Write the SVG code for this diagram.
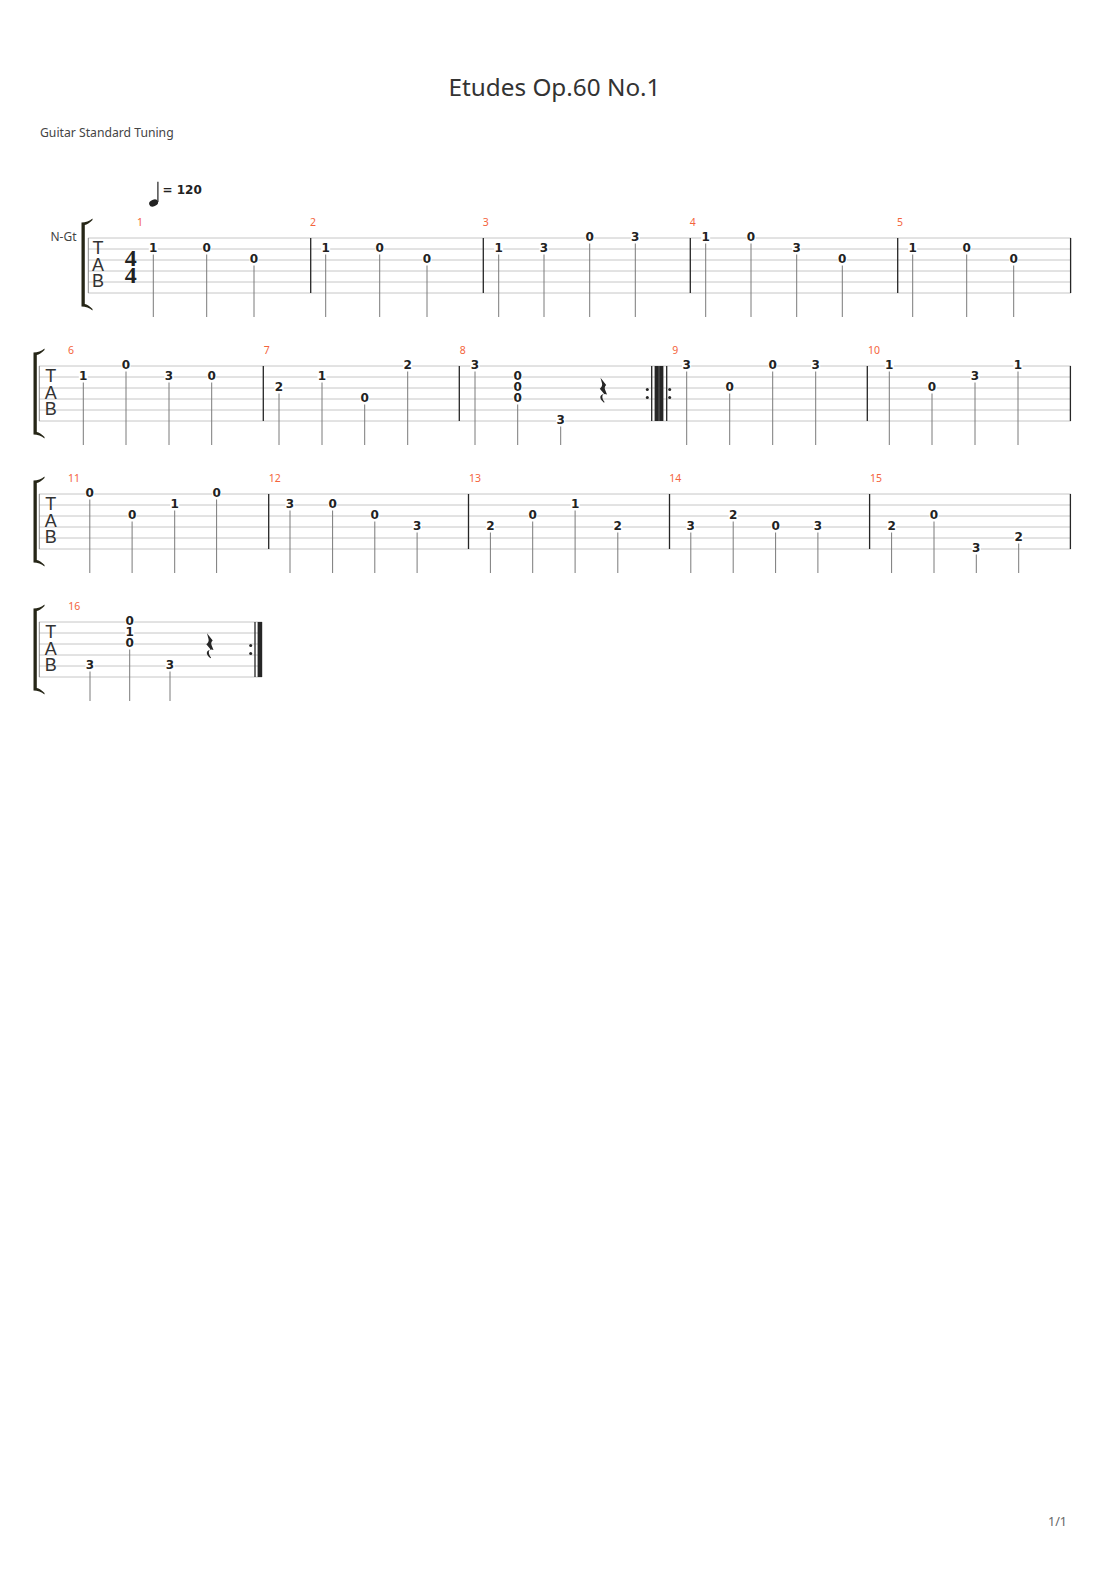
<svg xmlns="http://www.w3.org/2000/svg" width="1110" height="1570" viewBox="0 0 1110 1570">
<style>
.st{stroke:#c6c6c6;stroke-width:1;fill:none}
.edge{stroke:#8a8a8a;stroke-width:1}
.bar{stroke:#262626;stroke-width:1.3}
.stem{stroke:#7a7a7a;stroke-width:1}
.bg{fill:#ffffff}
.fret{font-family:"DejaVu Sans",sans-serif;font-weight:bold;font-size:12px;fill:#222;text-anchor:middle}
.mn{font-family:"Noto Sans",sans-serif;font-size:10.5px;fill:#f4643c;text-anchor:middle}
.tab{font-family:"Liberation Sans",sans-serif;font-size:18px;fill:#333;writing-mode:vertical-rl;text-orientation:upright;letter-spacing:-3.6px}
.ts{font-family:"Liberation Serif",serif;font-weight:bold;font-size:24px;fill:#222;writing-mode:vertical-rl;text-orientation:upright;letter-spacing:-8.4px}
.brk{fill:#262617}
.dot{fill:#262626}
</style>
<defs>
<path id="qrest" d="M1.5,0 L7.2,7.2 C5.8,8.6 5.2,10.2 6.2,12.2 L8,16.8 C6.2,16 3.8,16 3.4,18.2 C3,20.2 4.2,22.6 5.6,24.4 L5,25 C2.6,23 0.6,20.6 1.6,18.4 C2.4,16.6 4.6,16.4 5.6,16.8 L0.8,11 C2.6,9.6 3.6,7.6 3,5.6 Z" fill="#262626"/>
</defs>
<rect width="1110" height="1570" fill="#ffffff"/>

<g id="header">
<text x="554.5" y="96" font-family="Noto Sans, sans-serif" font-size="24.3" fill="#333" text-anchor="middle">Etudes Op.60 No.1</text>
<text x="40" y="136.5" font-family="Noto Sans, sans-serif" font-size="12.2" fill="#444">Guitar Standard Tuning</text>
<ellipse cx="153.6" cy="203" rx="4.6" ry="3.3" transform="rotate(-22 153.6 203)" fill="#222"/>
<line x1="157.9" y1="181.7" x2="157.9" y2="202" stroke="#222" stroke-width="1.2"/>
<text x="162.5" y="194" font-family="DejaVu Sans, sans-serif" font-weight="bold" font-size="12" fill="#222">= 120</text>
<text x="50.5" y="240.7" font-family="Noto Sans, sans-serif" font-size="12" fill="#444">N-Gt</text>
<text x="1067" y="1525.5" font-family="Noto Sans, sans-serif" font-size="12.5" fill="#666" text-anchor="end">1/1</text>
</g>

<!-- ================= SYSTEM 1 ================= -->
<g id="system1">
<path class="brk" d="M81.5,222.5 C85.5,222.5 89.5,221 92.5,218.5 L92.5,220 C89.5,223 87,224.5 84.8,225 L84.8,304 C87,304.5 89.5,306 92.5,309 L92.5,310.5 C89.5,308 85.5,306.5 81.5,306.5 Z"/>
<g class="st">
<line x1="88" y1="238" x2="1071" y2="238"/><line x1="88" y1="249" x2="1071" y2="249"/><line x1="88" y1="260" x2="1071" y2="260"/>
<line x1="88" y1="271" x2="1071" y2="271"/><line x1="88" y1="282" x2="1071" y2="282"/><line x1="88" y1="293" x2="1071" y2="293"/>
</g>
<line class="edge" x1="88.3" y1="238" x2="88.3" y2="293"/>
<text class="tab" x="98" y="238.3">TAB</text>
<text class="ts" x="130.7" y="244.8">44</text>
<g id="m1"><text class="mn" x="140" y="225.5">1</text>
<rect class="bg" x="148.8" y="242" width="9" height="10.5"/><text class="fret" x="153.3" y="251.5">1</text><line class="stem" x1="153.3" y1="254.5" x2="153.3" y2="317"/>
<rect class="bg" x="202.2" y="242" width="9" height="10.5"/><text class="fret" x="206.7" y="251.5">0</text><line class="stem" x1="206.7" y1="254.5" x2="206.7" y2="317"/>
<rect class="bg" x="249.5" y="253" width="9" height="10.5"/><text class="fret" x="254" y="262.5">0</text><line class="stem" x1="254" y1="265.5" x2="254" y2="317"/>
</g>
<line class="bar" x1="310.7" y1="238" x2="310.7" y2="293"/>
<g id="m2"><text class="mn" x="313" y="225.5">2</text>
<rect class="bg" x="321.2" y="242" width="9" height="10.5"/><text class="fret" x="325.7" y="251.5">1</text><line class="stem" x1="325.7" y1="254.5" x2="325.7" y2="317"/>
<rect class="bg" x="375.2" y="242" width="9" height="10.5"/><text class="fret" x="379.7" y="251.5">0</text><line class="stem" x1="379.7" y1="254.5" x2="379.7" y2="317"/>
<rect class="bg" x="422.5" y="253" width="9" height="10.5"/><text class="fret" x="427" y="262.5">0</text><line class="stem" x1="427" y1="265.5" x2="427" y2="317"/>
</g>
<line class="bar" x1="483.3" y1="238" x2="483.3" y2="293"/>
<g id="m3"><text class="mn" x="485.7" y="225.5">3</text>
<rect class="bg" x="494.2" y="242" width="9" height="10.5"/><text class="fret" x="498.7" y="251.5">1</text><line class="stem" x1="498.7" y1="254.5" x2="498.7" y2="317"/>
<rect class="bg" x="539.5" y="242" width="9" height="10.5"/><text class="fret" x="544" y="251.5">3</text><line class="stem" x1="544" y1="254.5" x2="544" y2="317"/>
<rect class="bg" x="585.2" y="231" width="9" height="10.5"/><text class="fret" x="589.7" y="240.5">0</text><line class="stem" x1="589.7" y1="243.5" x2="589.7" y2="317"/>
<rect class="bg" x="630.8" y="231" width="9" height="10.5"/><text class="fret" x="635.3" y="240.5">3</text><line class="stem" x1="635.3" y1="243.5" x2="635.3" y2="317"/>
</g>
<line class="bar" x1="690.3" y1="238" x2="690.3" y2="293"/>
<g id="m4"><text class="mn" x="692.7" y="225.5">4</text>
<rect class="bg" x="701.2" y="231" width="9" height="10.5"/><text class="fret" x="705.7" y="240.5">1</text><line class="stem" x1="705.7" y1="243.5" x2="705.7" y2="317"/>
<rect class="bg" x="746.5" y="231" width="9" height="10.5"/><text class="fret" x="751" y="240.5">0</text><line class="stem" x1="751" y1="243.5" x2="751" y2="317"/>
<rect class="bg" x="792.2" y="242" width="9" height="10.5"/><text class="fret" x="796.7" y="251.5">3</text><line class="stem" x1="796.7" y1="254.5" x2="796.7" y2="317"/>
<rect class="bg" x="837.8" y="253" width="9" height="10.5"/><text class="fret" x="842.3" y="262.5">0</text><line class="stem" x1="842.3" y1="265.5" x2="842.3" y2="317"/>
</g>
<line class="bar" x1="897.7" y1="238" x2="897.7" y2="293"/>
<g id="m5"><text class="mn" x="900" y="225.5">5</text>
<rect class="bg" x="908.2" y="242" width="9" height="10.5"/><text class="fret" x="912.7" y="251.5">1</text><line class="stem" x1="912.7" y1="254.5" x2="912.7" y2="317"/>
<rect class="bg" x="962.2" y="242" width="9" height="10.5"/><text class="fret" x="966.7" y="251.5">0</text><line class="stem" x1="966.7" y1="254.5" x2="966.7" y2="317"/>
<rect class="bg" x="1009.2" y="253" width="9" height="10.5"/><text class="fret" x="1013.7" y="262.5">0</text><line class="stem" x1="1013.7" y1="265.5" x2="1013.7" y2="317"/>
</g>
<line class="bar" x1="1070.6" y1="238" x2="1070.6" y2="293"/>
</g>

<!-- ================= SYSTEM 2 ================= -->
<g id="system2">
<path class="brk" d="M33.5,352.5 C37.5,352.5 41.5,351 44.5,348.5 L44.5,350 C41.5,353 39,354.5 36.8,355 L36.8,432 C39,432.5 41.5,434 44.5,437 L44.5,438.5 C41.5,436 37.5,434.5 33.5,434.5 Z"/>
<g class="st">
<line x1="39" y1="366" x2="1071" y2="366"/><line x1="39" y1="377" x2="1071" y2="377"/><line x1="39" y1="388" x2="1071" y2="388"/>
<line x1="39" y1="399" x2="1071" y2="399"/><line x1="39" y1="410" x2="1071" y2="410"/><line x1="39" y1="421" x2="1071" y2="421"/>
</g>
<line class="edge" x1="39.3" y1="366" x2="39.3" y2="421"/>
<text class="tab" x="50.7" y="366.3">TAB</text>
<g id="m6"><text class="mn" x="71" y="353.5">6</text>
<rect class="bg" x="78.8" y="370" width="9" height="10.5"/><text class="fret" x="83.3" y="379.5">1</text><line class="stem" x1="83.3" y1="382.5" x2="83.3" y2="445"/>
<rect class="bg" x="121.5" y="359" width="9" height="10.5"/><text class="fret" x="126" y="368.5">0</text><line class="stem" x1="126" y1="371.5" x2="126" y2="445"/>
<rect class="bg" x="164.5" y="370" width="9" height="10.5"/><text class="fret" x="169" y="379.5">3</text><line class="stem" x1="169" y1="382.5" x2="169" y2="445"/>
<rect class="bg" x="207.2" y="370" width="9" height="10.5"/><text class="fret" x="211.7" y="379.5">0</text><line class="stem" x1="211.7" y1="382.5" x2="211.7" y2="445"/>
</g>
<line class="bar" x1="263.3" y1="366" x2="263.3" y2="421"/>
<g id="m7"><text class="mn" x="266.7" y="353.5">7</text>
<rect class="bg" x="274.5" y="381" width="9" height="10.5"/><text class="fret" x="279" y="390.5">2</text><line class="stem" x1="279" y1="393.5" x2="279" y2="445"/>
<rect class="bg" x="317.5" y="370" width="9" height="10.5"/><text class="fret" x="322" y="379.5">1</text><line class="stem" x1="322" y1="382.5" x2="322" y2="445"/>
<rect class="bg" x="360.2" y="392" width="9" height="10.5"/><text class="fret" x="364.7" y="401.5">0</text><line class="stem" x1="364.7" y1="404.5" x2="364.7" y2="445"/>
<rect class="bg" x="403.2" y="359" width="9" height="10.5"/><text class="fret" x="407.7" y="368.5">2</text><line class="stem" x1="407.7" y1="371.5" x2="407.7" y2="445"/>
</g>
<line class="bar" x1="459.3" y1="366" x2="459.3" y2="421"/>
<g id="m8"><text class="mn" x="462.7" y="353.5">8</text>
<rect class="bg" x="470.5" y="359" width="9" height="10.5"/><text class="fret" x="475" y="368.5">3</text><line class="stem" x1="475" y1="371.5" x2="475" y2="445"/>
<rect class="bg" x="513.2" y="370" width="9" height="32.5"/>
<text class="fret"><tspan x="517.7" y="379.5">0</tspan><tspan x="517.7" y="390.5">0</tspan><tspan x="517.7" y="401.5">0</tspan></text>
<line class="stem" x1="517.7" y1="404.5" x2="517.7" y2="445"/>
<rect class="bg" x="556.2" y="414" width="9" height="10.5"/><text class="fret" x="560.7" y="423.5">3</text><line class="stem" x1="560.7" y1="426.5" x2="560.7" y2="445"/>
<use href="#qrest" x="599" y="377.7"/>
</g>
<g id="repeat8-9">
<circle class="dot" cx="647.3" cy="389.5" r="1.5"/><circle class="dot" cx="647.3" cy="397.5" r="1.5"/>
<line class="bar" x1="651.7" y1="366" x2="651.7" y2="421" stroke-width="1"/>
<rect x="654.6" y="366" width="8.8" height="55" fill="#262626"/>
<line x1="659" y1="366" x2="659" y2="421" stroke="#777" stroke-width="0.7"/>
<line class="bar" x1="666.7" y1="366" x2="666.7" y2="421" stroke-width="1"/>
<circle class="dot" cx="669.7" cy="389.5" r="1.5"/><circle class="dot" cx="669.7" cy="397.5" r="1.5"/>
</g>
<g id="m9"><text class="mn" x="675.3" y="353.5">9</text>
<rect class="bg" x="682.2" y="359" width="9" height="10.5"/><text class="fret" x="686.7" y="368.5">3</text><line class="stem" x1="686.7" y1="371.5" x2="686.7" y2="445"/>
<rect class="bg" x="725.2" y="381" width="9" height="10.5"/><text class="fret" x="729.7" y="390.5">0</text><line class="stem" x1="729.7" y1="393.5" x2="729.7" y2="445"/>
<rect class="bg" x="768.2" y="359" width="9" height="10.5"/><text class="fret" x="772.7" y="368.5">0</text><line class="stem" x1="772.7" y1="371.5" x2="772.7" y2="445"/>
<rect class="bg" x="811.2" y="359" width="9" height="10.5"/><text class="fret" x="815.7" y="368.5">3</text><line class="stem" x1="815.7" y1="371.5" x2="815.7" y2="445"/>
</g>
<line class="bar" x1="867.3" y1="366" x2="867.3" y2="421"/>
<g id="m10"><text class="mn" x="874" y="353.5">10</text>
<rect class="bg" x="884.8" y="359" width="9" height="10.5"/><text class="fret" x="889.3" y="368.5">1</text><line class="stem" x1="889.3" y1="371.5" x2="889.3" y2="445"/>
<rect class="bg" x="927.5" y="381" width="9" height="10.5"/><text class="fret" x="932" y="390.5">0</text><line class="stem" x1="932" y1="393.5" x2="932" y2="445"/>
<rect class="bg" x="970.5" y="370" width="9" height="10.5"/><text class="fret" x="975" y="379.5">3</text><line class="stem" x1="975" y1="382.5" x2="975" y2="445"/>
<rect class="bg" x="1013.5" y="359" width="9" height="10.5"/><text class="fret" x="1018" y="368.5">1</text><line class="stem" x1="1018" y1="371.5" x2="1018" y2="445"/>
</g>
<line class="bar" x1="1070.4" y1="366" x2="1070.4" y2="421"/>
</g>

<!-- ================= SYSTEM 3 ================= -->
<g id="system3">
<path class="brk" d="M33.5,480.5 C37.5,480.5 41.5,479 44.5,476.5 L44.5,478 C41.5,481 39,482.5 36.8,483 L36.8,560 C39,560.5 41.5,562 44.5,565 L44.5,566.5 C41.5,564 37.5,562.5 33.5,562.5 Z"/>
<g class="st">
<line x1="39" y1="494" x2="1071" y2="494"/><line x1="39" y1="505" x2="1071" y2="505"/><line x1="39" y1="516" x2="1071" y2="516"/>
<line x1="39" y1="527" x2="1071" y2="527"/><line x1="39" y1="538" x2="1071" y2="538"/><line x1="39" y1="549" x2="1071" y2="549"/>
</g>
<line class="edge" x1="39.3" y1="494" x2="39.3" y2="549"/>
<text class="tab" x="50.7" y="494.3">TAB</text>
<g id="m11"><text class="mn" x="73.9" y="481.5">11</text>
<rect class="bg" x="85.3" y="487" width="9" height="10.5"/><text class="fret" x="89.8" y="496.5">0</text><line class="stem" x1="89.8" y1="499.5" x2="89.8" y2="573"/>
<rect class="bg" x="127.6" y="509" width="9" height="10.5"/><text class="fret" x="132.1" y="518.5">0</text><line class="stem" x1="132.1" y1="521.5" x2="132.1" y2="573"/>
<rect class="bg" x="170.2" y="498" width="9" height="10.5"/><text class="fret" x="174.7" y="507.5">1</text><line class="stem" x1="174.7" y1="510.5" x2="174.7" y2="573"/>
<rect class="bg" x="212.1" y="487" width="9" height="10.5"/><text class="fret" x="216.6" y="496.5">0</text><line class="stem" x1="216.6" y1="499.5" x2="216.6" y2="573"/>
</g>
<line class="bar" x1="268.7" y1="494" x2="268.7" y2="549"/>
<g id="m12"><text class="mn" x="274.8" y="481.5">12</text>
<rect class="bg" x="285.5" y="498" width="9" height="10.5"/><text class="fret" x="290" y="507.5">3</text><line class="stem" x1="290" y1="510.5" x2="290" y2="573"/>
<rect class="bg" x="328.1" y="498" width="9" height="10.5"/><text class="fret" x="332.6" y="507.5">0</text><line class="stem" x1="332.6" y1="510.5" x2="332.6" y2="573"/>
<rect class="bg" x="370.3" y="509" width="9" height="10.5"/><text class="fret" x="374.8" y="518.5">0</text><line class="stem" x1="374.8" y1="521.5" x2="374.8" y2="573"/>
<rect class="bg" x="412.6" y="520" width="9" height="10.5"/><text class="fret" x="417.1" y="529.5">3</text><line class="stem" x1="417.1" y1="532.5" x2="417.1" y2="573"/>
</g>
<line class="bar" x1="468.5" y1="494" x2="468.5" y2="549"/>
<g id="m13"><text class="mn" x="474.9" y="481.5">13</text>
<rect class="bg" x="485.9" y="520" width="9" height="10.5"/><text class="fret" x="490.4" y="529.5">2</text><line class="stem" x1="490.4" y1="532.5" x2="490.4" y2="573"/>
<rect class="bg" x="528.2" y="509" width="9" height="10.5"/><text class="fret" x="532.7" y="518.5">0</text><line class="stem" x1="532.7" y1="521.5" x2="532.7" y2="573"/>
<rect class="bg" x="570.6" y="498" width="9" height="10.5"/><text class="fret" x="575.1" y="507.5">1</text><line class="stem" x1="575.1" y1="510.5" x2="575.1" y2="573"/>
<rect class="bg" x="613.3" y="520" width="9" height="10.5"/><text class="fret" x="617.8" y="529.5">2</text><line class="stem" x1="617.8" y1="532.5" x2="617.8" y2="573"/>
</g>
<line class="bar" x1="669.5" y1="494" x2="669.5" y2="549"/>
<g id="m14"><text class="mn" x="675.3" y="481.5">14</text>
<rect class="bg" x="686.3" y="520" width="9" height="10.5"/><text class="fret" x="690.8" y="529.5">3</text><line class="stem" x1="690.8" y1="532.5" x2="690.8" y2="573"/>
<rect class="bg" x="728.7" y="509" width="9" height="10.5"/><text class="fret" x="733.2" y="518.5">2</text><line class="stem" x1="733.2" y1="521.5" x2="733.2" y2="573"/>
<rect class="bg" x="771.1" y="520" width="9" height="10.5"/><text class="fret" x="775.6" y="529.5">0</text><line class="stem" x1="775.6" y1="532.5" x2="775.6" y2="573"/>
<rect class="bg" x="813.4" y="520" width="9" height="10.5"/><text class="fret" x="817.9" y="529.5">3</text><line class="stem" x1="817.9" y1="532.5" x2="817.9" y2="573"/>
</g>
<line class="bar" x1="869.6" y1="494" x2="869.6" y2="549"/>
<g id="m15"><text class="mn" x="876.1" y="481.5">15</text>
<rect class="bg" x="887.1" y="520" width="9" height="10.5"/><text class="fret" x="891.6" y="529.5">2</text><line class="stem" x1="891.6" y1="532.5" x2="891.6" y2="573"/>
<rect class="bg" x="929.5" y="509" width="9" height="10.5"/><text class="fret" x="934" y="518.5">0</text><line class="stem" x1="934" y1="521.5" x2="934" y2="573"/>
<rect class="bg" x="971.8" y="542" width="9" height="10.5"/><text class="fret" x="976.3" y="551.5">3</text><line class="stem" x1="976.3" y1="554.5" x2="976.3" y2="573"/>
<rect class="bg" x="1014.2" y="531" width="9" height="10.5"/><text class="fret" x="1018.7" y="540.5">2</text><line class="stem" x1="1018.7" y1="543.5" x2="1018.7" y2="573"/>
</g>
<line class="bar" x1="1070.4" y1="494" x2="1070.4" y2="549"/>
</g>

<!-- ================= SYSTEM 4 ================= -->
<g id="system4">
<path class="brk" d="M33.5,608.5 C37.5,608.5 41.5,607 44.5,604.5 L44.5,606 C41.5,609 39,610.5 36.8,611 L36.8,688 C39,688.5 41.5,690 44.5,693 L44.5,694.5 C41.5,692 37.5,690.5 33.5,690.5 Z"/>
<g class="st">
<line x1="39" y1="622" x2="262" y2="622"/><line x1="39" y1="633" x2="262" y2="633"/><line x1="39" y1="644" x2="262" y2="644"/>
<line x1="39" y1="655" x2="262" y2="655"/><line x1="39" y1="666" x2="262" y2="666"/><line x1="39" y1="677" x2="262" y2="677"/>
</g>
<line class="edge" x1="39.3" y1="622" x2="39.3" y2="677"/>
<text class="tab" x="50.7" y="622.3">TAB</text>
<g id="m16"><text class="mn" x="74.3" y="609.5">16</text>
<rect class="bg" x="85.5" y="659" width="9" height="10.5"/><text class="fret" x="90" y="668.5">3</text><line class="stem" x1="90" y1="671.5" x2="90" y2="701"/>
<rect class="bg" x="125.2" y="615" width="9" height="32.5"/>
<text class="fret"><tspan x="129.7" y="624.5">0</tspan><tspan x="129.7" y="635.5">1</tspan><tspan x="129.7" y="646.5">0</tspan></text>
<line class="stem" x1="129.7" y1="649.5" x2="129.7" y2="701"/>
<rect class="bg" x="165.5" y="659" width="9" height="10.5"/><text class="fret" x="170" y="668.5">3</text><line class="stem" x1="170" y1="671.5" x2="170" y2="701"/>
<use href="#qrest" x="205.5" y="633.3"/>
</g>
<g id="end-repeat">
<circle class="dot" cx="250.7" cy="645.5" r="1.5"/><circle class="dot" cx="250.7" cy="653.5" r="1.5"/>
<line class="bar" x1="255" y1="622" x2="255" y2="677" stroke-width="1"/>
<rect x="257.6" y="622" width="4.6" height="55" fill="#262626"/>
</g>
</g>
</svg>
